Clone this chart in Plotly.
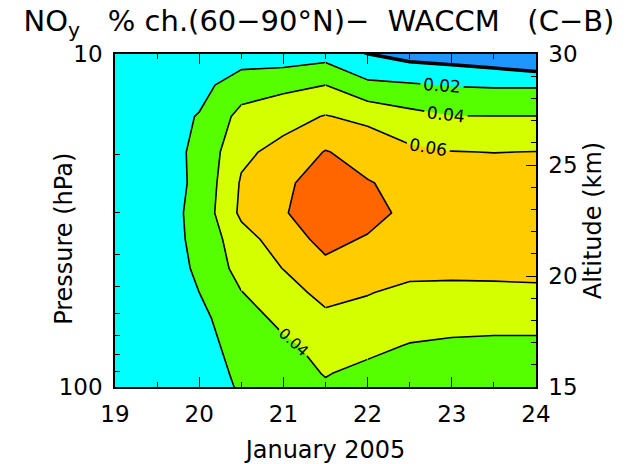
import plotly.graph_objects as go

# ---- data ----
days = [19.0, 19.5, 20.0, 20.5, 21.0, 21.5, 22.0, 22.5, 23.0, 23.5, 24.0]
pressure_hpa = [108, 91, 75, 62, 52, 44, 36, 30, 24.4, 19.7, 15.4, 12.4, 9.8]

row_108 = [0.001, 0.002, 0.008, 0.021, 0.030, 0.035, 0.031, 0.028, 0.027, 0.026, 0.026]
row_91 = [0.001, 0.003, 0.010, 0.024, 0.032, 0.041, 0.035, 0.032, 0.031, 0.030, 0.030]
row_75 = [0.001, 0.004, 0.013, 0.027, 0.036, 0.047, 0.045, 0.039, 0.036, 0.035, 0.035]
row_62 = [0.002, 0.006, 0.016, 0.030, 0.046, 0.056, 0.053, 0.050, 0.050, 0.049, 0.049]
row_52 = [0.002, 0.008, 0.020, 0.0395, 0.052, 0.066, 0.061, 0.055, 0.056, 0.0565, 0.058]
row_44 = [0.003, 0.009, 0.023, 0.047, 0.0605, 0.075, 0.071, 0.066, 0.064, 0.064, 0.063]
row_36 = [0.004, 0.010, 0.025, 0.052, 0.070, 0.086, 0.078, 0.072, 0.070, 0.069, 0.068]
row_30 = [0.004, 0.010, 0.026, 0.064, 0.078, 0.095, 0.088, 0.074, 0.072, 0.071, 0.070]
row_24 = [0.005, 0.010, 0.024, 0.062, 0.076, 0.090, 0.081, 0.075, 0.072, 0.071, 0.070]
row_20 = [0.006, 0.011, 0.024, 0.056, 0.066, 0.081, 0.073, 0.064, 0.0605, 0.0597, 0.0603]
row_15 = [0.007, 0.012, 0.021, 0.046, 0.053, 0.061, 0.055, 0.046, 0.0405, 0.0403, 0.0403]
row_12 = [0.007, 0.010, 0.014, 0.030, 0.035, 0.040, 0.024, 0.022, 0.019, 0.018, 0.018]
row_10 = [0.006, 0.006, 0.006, 0.008, 0.006, 0.010, -0.002, -0.010, -0.0127, -0.018, -0.027]

noy_change = [row_108, row_91, row_75, row_62, row_52, row_44, row_36,
              row_30, row_24, row_20, row_15, row_12, row_10]

level_start, level_end, level_step = 0.0, 0.08, 0.02
band_colors = ["#1E96FF", "#00FFFF", "#55FF00", "#D4FF00", "#FFCC00", "#FF6600"]

x_ticks = [19, 20, 21, 22, 23, 24]
p_ticks = [10, 100]
p_minor = [20, 30, 40, 50, 60, 70, 80, 90]
alt_ticks = [15, 20, 25, 30]
alt_range = [15, 30]

title_text = ("NO<sub>y</sub>\u00a0\u00a0 % ch.(60\u221290\u00b0N)\u2212\u00a0 WACCM"
              "\u00a0\u00a0 (C\u2212B)")

# ---- helpers ----
n = len(band_colors)
cscale = []
for i, c in enumerate(band_colors):
    lo = 0.0 if i == 0 else (i - 0.5) / (n - 1)
    hi = 1.0 if i == n - 1 else (i + 0.5) / (n - 1)
    cscale.append([lo, c])
    cscale.append([hi, c])


def sub(c0, c1, r0, r1):
    return dict(x=days[c0:c1 + 1], y=pressure_hpa[r0:r1 + 1],
                z=[row[c0:c1 + 1] for row in noy_change[r0:r1 + 1]])


def line_trace(grid, lo, hi, step, width=1.6, labels=False, label_size=17):
    return go.Contour(
        **grid,
        contours=dict(start=lo, end=hi, size=step, coloring="none",
                      showlabels=labels, labelformat=".2f",
                      labelfont=dict(family="DejaVu Sans", size=label_size,
                                     color="black")),
        line=dict(color="black", width=width, smoothing=0),
        showscale=False, hoverinfo="skip")


fig = go.Figure()
# filled bands
fig.add_trace(go.Contour(
    x=days, y=pressure_hpa, z=noy_change,
    contours=dict(start=level_start, end=level_end, size=level_step,
                  coloring="fill", showlines=False),
    colorscale=cscale, showscale=False, line=dict(width=0, smoothing=0),
    hoverinfo="skip"))

full = sub(0, 10, 0, 12)
label_top = sub(5, 10, 8, 12)          # upper-right labelled part
label_bottom = sub(3, 6, 0, 5)         # lower labelled part (0.04 only)

# 0.02 and 0.06 lines outside the labelled part
fig.add_trace(line_trace(sub(0, 5, 0, 12), 0.02, 0.06, 0.04))
fig.add_trace(line_trace(sub(5, 10, 0, 8), 0.02, 0.06, 0.04))
# 0.04 lines outside both labelled parts
for g in (sub(0, 3, 0, 12), sub(3, 5, 5, 12), sub(5, 6, 5, 8), sub(6, 10, 0, 8)):
    fig.add_trace(line_trace(g, 0.04, 0.04, 0.02))
# labelled pieces, one trace per level so the labels are placed independently
for lev in (0.02, 0.04, 0.06):
    fig.add_trace(line_trace(label_top, lev, lev, level_step, labels=True))
fig.add_trace(line_trace(label_bottom, 0.04, 0.04, level_step, labels=True,
                         label_size=15))
# 0.08 line and thick zero line
fig.add_trace(line_trace(full, level_end, level_end, level_step))
fig.add_trace(line_trace(full, level_start, level_start, level_step, width=3.5))

# helper for altitude axis
fig.add_trace(go.Scatter(x=[days[0], days[-1]], y=alt_range, yaxis="y2",
                         mode="markers", marker=dict(opacity=0),
                         hoverinfo="skip", showlegend=False))

tick_common = dict(ticks="inside", ticklen=10, tickwidth=1.3, tickcolor="black",
                   showline=True, linecolor="black", linewidth=1.5,
                   showgrid=False, zeroline=False, automargin=False)

fig.update_layout(
    width=638, height=464,
    margin=dict(l=115, r=102, t=54, b=77),
    paper_bgcolor="white", plot_bgcolor="white",
    showlegend=False,
    font=dict(family="DejaVu Sans", size=23, color="black"),
    title=dict(text=title_text, x=0.5, xanchor="center", y=0.956, yanchor="middle",
               font=dict(size=29)),
    xaxis=dict(range=[19, 24], tickvals=x_ticks,
               minor=dict(dtick=0.5, tick0=19, ticks="inside", ticklen=5,
                          tickwidth=1.3, tickcolor="black"),
               mirror="ticks", ticklabelstandoff=6,
               title=dict(text="January 2005", font=dict(size=24), standoff=20),
               **tick_common),
    yaxis=dict(type="log", range=[2, 1], tickvals=p_ticks,
               ticktext=[str(v) for v in p_ticks],
               minor=dict(tickmode="array", tickvals=p_minor, ticks="inside",
                          ticklen=5, tickwidth=1.3, tickcolor="black"),
               ticklabelstandoff=6,
               **tick_common),
    yaxis2=dict(overlaying="y", side="right", anchor="x", range=alt_range,
                tickvals=alt_ticks,
                minor=dict(dtick=1, tick0=15, ticks="inside", ticklen=5,
                           tickwidth=1.3, tickcolor="black"),
                ticklabelstandoff=6,
                title=dict(text="Altitude (km)", font=dict(size=24), standoff=8),
                **tick_common),
    annotations=[dict(text="Pressure (hPa)", textangle=-90, showarrow=False,
                      xref="paper", yref="paper", x=-0.121, y=0.445,
                      xanchor="center", yanchor="middle",
                      font=dict(size=24, color="black"))],
)

fig.write_html("out.html")
